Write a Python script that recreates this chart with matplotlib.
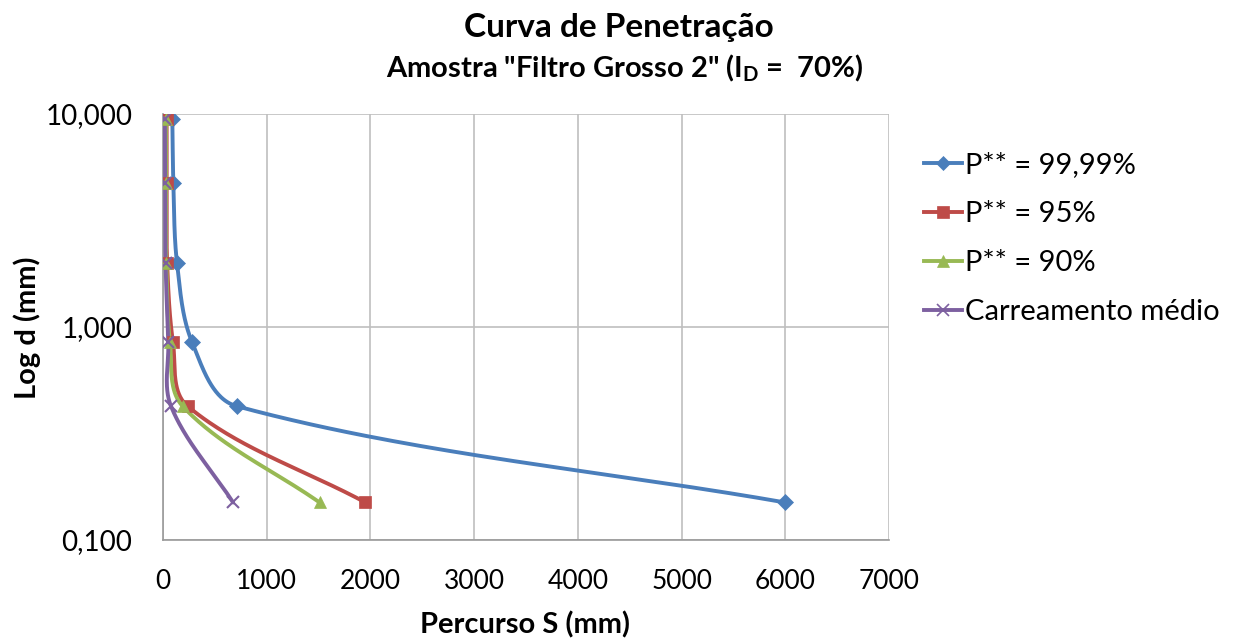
import numpy as np
import matplotlib
matplotlib.use("Agg")
import matplotlib.pyplot as plt
from matplotlib.ticker import FixedLocator, FixedFormatter, NullLocator

plt.rcParams['font.family'] = ['Lato', 'DejaVu Sans']
plt.rcParams['mathtext.fontset'] = 'custom'
plt.rcParams['mathtext.rm'] = 'Lato:bold'

# ---- data ----
d_mm = [9.5, 4.75, 2.0, 0.85, 0.425, 0.15]
s_9999 = [90, 100, 135, 280, 710, 6000]
s_95 = [35, 35, 40, 96, 237, 1952]
s_90 = [28, 28, 32, 67, 189, 1510]
s_medio = [18, 20, 25, 51, 77, 676]
labels = ["P** = 99,99%", "P** = 95%", "P** = 90%", "Carreamento médio"]
colors = ["#4A7EBB", "#BE4B48", "#98B954", "#7D60A0"]
markers = ["D", "s", "^", "x"]
msizes = [8, 9, 9, 9]
x_ticks = [0, 1000, 2000, 3000, 4000, 5000, 6000, 7000]
y_ticks = [0.1, 1, 10]
y_tick_labels = ["0,100", "1,000", "10,000"]

fig = plt.figure(figsize=(12.45, 6.44), dpi=100)
ax = fig.add_axes([163/1245, 1-540/644, (889-163)/1245, (540-114)/644])
ax.set_xscale('linear')
ax.set_yscale('log')
ax.set_xlim(0, 7000)
ax.set_ylim(0.1, 10)


def smooth(xs, ys, n=60):
    # Bezier smoothing in display space, tangent scaled by segment length
    pts = ax.transData.transform(np.column_stack([xs, ys]))
    m = len(pts)
    tang = []
    for i in range(m):
        a = pts[max(i - 1, 0)]
        b = pts[min(i + 1, m - 1)]
        v = b - a
        nv = np.hypot(*v)
        tang.append(v / nv if nv > 0 else v)
    out = [pts[0]]
    for i in range(m - 1):
        p1, p2 = pts[i], pts[i + 1]
        L = np.hypot(*(p2 - p1))
        c1 = p1 + tang[i] * L / 3.0
        c2 = p2 - tang[i + 1] * L / 3.0
        t = np.linspace(0, 1, n)[1:, None]
        seg = ((1 - t) ** 3) * p1 + 3 * ((1 - t) ** 2) * t * c1 + 3 * (1 - t) * t ** 2 * c2 + t ** 3 * p2
        out.extend(seg)
    out = np.array(out)
    return ax.transData.inverted().transform(out)


series = [s_9999, s_95, s_90, s_medio]
handles = []
for s, lab, c, mk, ms in zip(series, labels, colors, markers, msizes):
    curve = smooth(s, d_mm)
    ax.plot(curve[:, 0], curve[:, 1], color=c, lw=2.8, solid_capstyle='round', zorder=3)
    ax.plot(s, d_mm, linestyle='none', marker=mk, color=c, markersize=ms,
            markeredgewidth=1.5 if mk == 'x' else 0.5, zorder=4)
    h, = ax.plot([], [], color=c, lw=2.8, marker=mk, markersize=ms - 1,
                 markeredgewidth=1.2 if mk == 'x' else 0.5, label=lab)
    handles.append(h)

ax.xaxis.set_major_locator(FixedLocator(x_ticks))
ax.yaxis.set_major_locator(FixedLocator(y_ticks))
ax.yaxis.set_major_formatter(FixedFormatter(y_tick_labels))
ax.yaxis.set_minor_locator(NullLocator())
ax.set_xticklabels([str(v) for v in x_ticks])
ax.grid(True, which='major', color='#BFBFBF', lw=1.2)
ax.set_axisbelow(True)
for side in ['top', 'right']:
    ax.spines[side].set_visible(False)
for side in ['left', 'bottom']:
    ax.spines[side].set_color('#999999')
    ax.spines[side].set_linewidth(1.2)
ax.tick_params(axis='both', length=0, colors='black')
ax.tick_params(axis='x', pad=21, labelsize=19)
ax.tick_params(axis='y', pad=22, labelsize=20)

fig.text(0.497, 1-28/644, "Curva de Penetração", ha='center', va='center',
         fontsize=24, fontweight='bold')
fig.text(0.502, 1-68/644, 'Amostra "Filtro Grosso 2" (I$_{\\mathrm{D}}$ =  70%)',
         ha='center', va='center', fontsize=21, fontweight='bold')
fig.text(27/1245, 1-328/644, "Log d (mm)", rotation=90, ha='center', va='center',
         fontsize=21, fontweight='bold')
fig.text(525/1245, 1-625/644, "Percurso S (mm)", ha='center', va='center',
         fontsize=21, fontweight='bold')

fig.legend(handles=handles, loc='upper left', bbox_to_anchor=(924/1245, 1-152/644),
           frameon=False, fontsize=21, handlelength=1.3, handletextpad=0.12,
           labelspacing=0.79, borderaxespad=0, borderpad=0)

fig.savefig("out.png", dpi=100)
